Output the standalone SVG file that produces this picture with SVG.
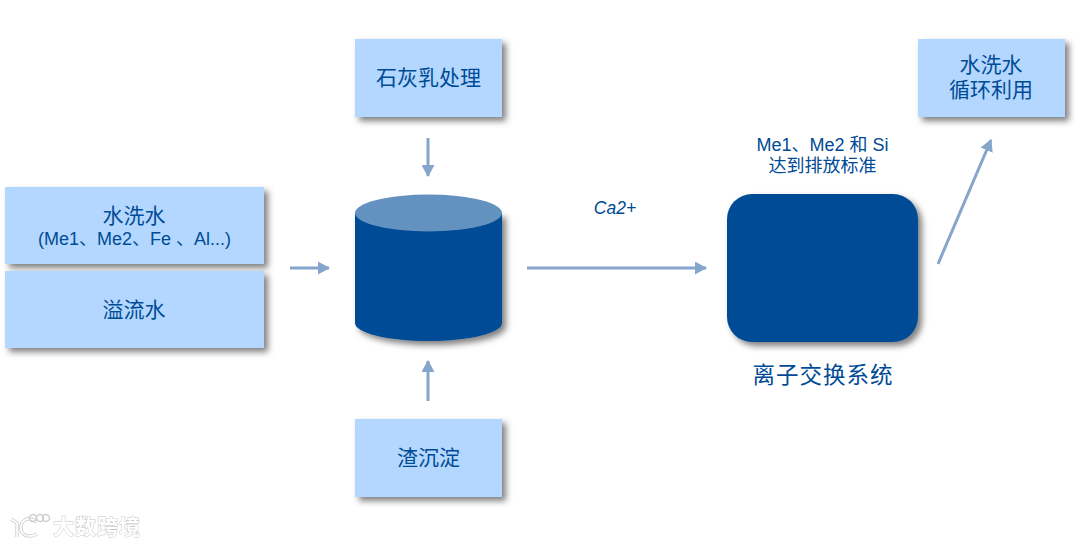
<svg xmlns="http://www.w3.org/2000/svg" width="1080" height="546" viewBox="0 0 1080 546">
<style>
.box{fill:#b3d7ff;filter:url(#sh)}
.dark{fill:#004b96}
text{font-family:"Liberation Sans","Noto Sans CJK SC",sans-serif;fill:#004b96;text-anchor:middle}
.t20{font-size:21px}
.t17{font-size:18px}
.conn{stroke:#86a5cb;stroke-width:3;fill:none}
.wm{stroke:#c4c4c4;stroke-width:.9;paint-order:stroke}
.wml{fill:none;stroke:#d0d0d0;stroke-width:3.400}
.wmw{fill:none;stroke:#fff;stroke-width:1.600}
</style>
<defs>
<filter id="sh" x="-10%" y="-15%" width="125%" height="135%"><feDropShadow dx="4" dy="4" stdDeviation="3" flood-color="#000" flood-opacity=".5"/></filter>
<marker id="a" viewBox="0 0 12 13" refX="11" refY="6.500" markerWidth="12" markerHeight="13" markerUnits="userSpaceOnUse" orient="auto"><path d="M0 0L12 6.500L0 13Z" fill="#86a5cb"/></marker>
</defs>
<rect width="1080" height="546" fill="#fff"/>
<g id="connectors">
<line class="conn" x1="290" y1="268" x2="329" y2="268" marker-end="url(#a)"/>
<line class="conn" x1="428" y1="138" x2="428" y2="176" marker-end="url(#a)"/>
<line class="conn" x1="428" y1="401" x2="428" y2="361" marker-end="url(#a)"/>
<line class="conn" x1="527" y1="268" x2="706" y2="268" marker-end="url(#a)"/>
<line class="conn" x1="938" y1="264" x2="991" y2="140" marker-end="url(#a)"/>
</g>
<g id="node-wash">
<rect class="box" x="5" y="187" width="259" height="77"/>
<text class="t20" x="134" y="223">水洗水</text>
<text class="t17" x="134.500" y="245">(Me1、Me2、Fe 、Al...)</text>
</g>
<g id="node-overflow">
<rect class="box" x="5" y="271" width="259" height="77"/>
<text class="t20" x="134" y="317">溢流水</text>
</g>
<g id="node-lime">
<rect class="box" x="355" y="39" width="147" height="78"/>
<text class="t20" x="428.500" y="85">石灰乳处理</text>
</g>
<g id="node-tank">
<path class="dark" filter="url(#sh)" d="M355 213V323C355 333 388 341 428.500 341S502 333 502 323V213Z"/>
<ellipse cx="428.500" cy="213" rx="73.500" ry="18.500" fill="#6492c0"/>
</g>
<g id="node-sludge">
<rect class="box" x="355" y="419" width="147" height="78"/>
<text class="t20" x="428.500" y="465">渣沉淀</text>
</g>
<g id="node-ion">
<rect class="dark" filter="url(#sh)" x="727" y="194" width="191" height="148" rx="25"/>
<text x="823" y="383" font-size="22.500" letter-spacing="1">离子交换系统</text>
</g>
<g id="node-recycle">
<rect class="box" x="918" y="39" width="147" height="78"/>
<text class="t20" x="991" y="72">水洗水</text>
<text class="t20" x="991" y="97">循环利用</text>
</g>
<g id="labels">
<text x="615" y="214" font-size="17.500" font-style="italic">Ca2+</text>
<text class="t17" x="822.500" y="151">Me1、Me2 和 Si</text>
<text class="t17" x="822.500" y="172">达到排放标准</text>
</g>
<g id="watermark">
<path class="wml" d="M11 519L17 523V537M37 522C27 515 21 521 21 528C21 534 27 539 37 534"/>
<path class="wmw" d="M11 519L17 523V537M37 522C27 515 21 521 21 528C21 534 27 539 37 534"/>
<g fill="none" stroke="#d0d0d0" stroke-width="1.600"><circle cx="33" cy="518" r="3.500"/><circle cx="40" cy="518" r="3.500"/><circle cx="46" cy="518" r="3.500"/></g>
<text class="wm" x="97" y="534" font-size="21" font-weight="700" letter-spacing="1" style="fill:#fff">大数跨境</text>
</g>
</svg>
